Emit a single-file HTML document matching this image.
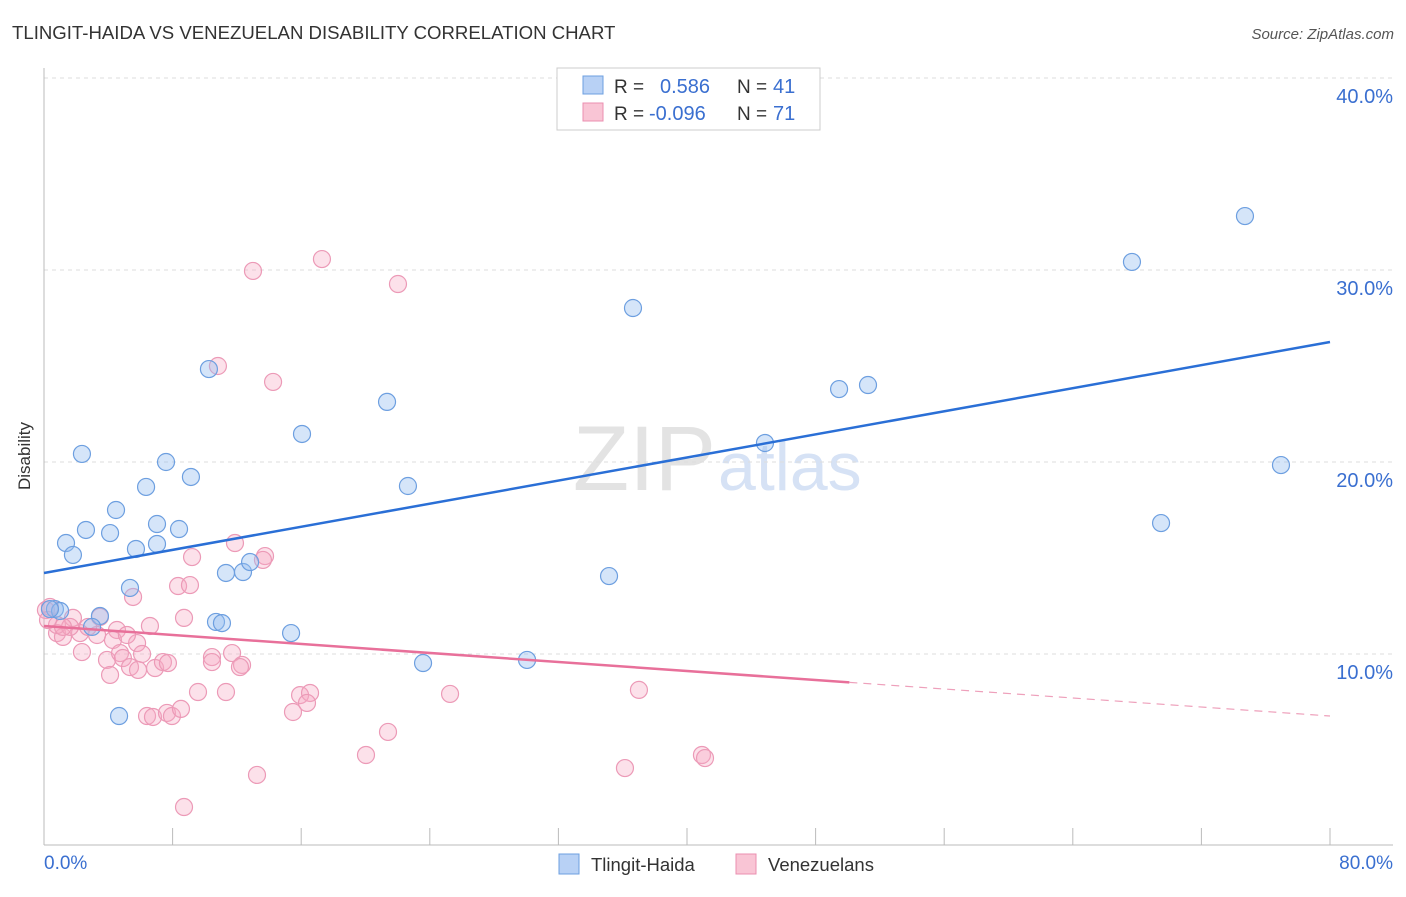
<!DOCTYPE html>
<html><head><meta charset="utf-8"><style>
body{margin:0;background:#fff;font-family:"Liberation Sans",sans-serif;}
svg text{font-family:"Liberation Sans",sans-serif;}
</style></head><body>
<svg id="chart" width="1406" height="892">
<text x="12" y="39" font-size="18.6" fill="#333">TLINGIT-HAIDA VS VENEZUELAN DISABILITY CORRELATION CHART</text>
<text x="1394" y="39" font-size="15" fill="#555" font-style="italic" text-anchor="end">Source: ZipAtlas.com</text>
<text x="30" y="456" font-size="17" fill="#333" transform="rotate(-90 30 456)" text-anchor="middle">Disability</text>
<text x="716" y="490" font-size="92" fill="#e3e3e3" text-anchor="end" font-family="Liberation Serif">ZIP</text>
<text x="718" y="490" font-size="68" fill="#d6e2f5">atlas</text>
<g id="grid"></g><g id="axes"></g><g id="marks"></g>
<g>
<rect x="557" y="68" width="263" height="62" fill="#fff" stroke="#ccc"/>
<rect x="583" y="76" width="20" height="18" fill="#b8d1f5" stroke="#6d9fe0"/>
<text x="614" y="93" font-size="19" fill="#333">R = </text><text x="660" y="93" font-size="20" fill="#3a6fd0">0.586</text>
<text x="737" y="93" font-size="19" fill="#333">N = </text><text x="773" y="93" font-size="20" fill="#3a6fd0">41</text>
<rect x="583" y="103" width="20" height="18" fill="#f9c5d5" stroke="#eb8fb0"/>
<text x="614" y="120" font-size="19" fill="#333">R = </text><text x="649" y="120" font-size="20" fill="#3a6fd0">-0.096</text>
<text x="737" y="120" font-size="19" fill="#333">N = </text><text x="773" y="120" font-size="20" fill="#3a6fd0">71</text>
</g>
<g>
<rect x="559" y="854" width="20" height="20" fill="#b8d1f5" stroke="#6d9fe0"/>
<text x="591" y="871" font-size="18.5" fill="#333">Tlingit-Haida</text>
<rect x="736" y="854" width="20" height="20" fill="#f9c5d5" stroke="#eb8fb0"/>
<text x="768" y="871" font-size="18.5" fill="#333">Venezuelans</text>
</g>
</svg>
<script>
const yTicks=[10,20,30,40];
const yTickLabels=["10.0%","20.0%","30.0%","40.0%"];
const xTicks=[0,8,16,24,32,40,48,56,64,72,80];
const blueX=[2.36,1.37,1.80,2.61,4.48,4.11,6.35,5.72,7.03,7.03,7.59,8.40,9.14,10.26,0.68,1.00,3.48,5.35,2.99,10.70,11.07,11.32,12.38,12.82,16.05,21.34,22.64,15.37,23.58,30.05,4.67,35.15,36.64,44.85,49.46,51.26,67.68,74.71,69.49,76.95,0.37];
const blueY=[20.42,15.78,15.16,16.46,17.50,16.30,18.70,15.47,16.77,15.73,20.00,16.51,19.22,24.84,12.34,12.24,11.98,13.44,11.41,11.67,11.61,14.22,14.27,14.79,21.46,23.13,18.75,11.09,9.53,9.69,6.77,14.06,28.02,20.99,23.80,24.01,30.42,32.81,16.82,19.84,12.34];
const pinkX=[11.88,9.21,13.75,13.62,8.34,9.08,5.54,8.71,6.59,3.48,0.37,1.80,0.81,1.18,2.24,3.30,4.54,4.29,5.79,5.16,2.36,3.92,4.73,4.91,6.10,5.35,5.85,6.91,7.40,7.71,4.11,10.45,10.45,11.70,12.32,12.19,9.58,11.32,15.93,16.55,16.36,15.49,6.41,6.78,7.65,7.96,8.52,13.25,8.71,0.81,1.62,2.74,1.18,13.00,17.29,22.02,10.82,14.25,21.40,20.03,25.26,37.01,36.14,40.93,41.12,0.12,0.25];
const pinkY=[15.78,15.05,15.10,14.90,13.54,13.59,12.97,11.88,11.46,11.93,12.45,11.88,11.09,10.89,11.09,10.99,11.25,10.73,10.57,10.99,10.10,9.69,10.05,9.79,10.00,9.32,9.17,9.27,9.58,9.53,8.91,9.84,9.58,10.05,9.43,9.32,8.02,8.02,7.86,7.97,7.45,6.98,6.77,6.72,6.93,6.77,7.14,3.70,2.03,11.51,11.41,11.41,11.41,29.95,30.57,29.27,25.00,24.17,5.94,4.74,7.92,8.13,4.06,4.74,4.58,12.29,11.77];
const blueTrend=[14.22,26.25];
const pinkTrend=[11.46,6.77];
const pinkSolidEnd=50.1;
const X=v=>44+v*16.075, Y=v=>846-v*19.2;
const NS="http://www.w3.org/2000/svg";
function mk(tag,parent,attrs){const e=document.createElementNS(NS,tag);for(const k in attrs)e.setAttribute(k,attrs[k]);document.getElementById(parent).appendChild(e);return e;}
yTicks.forEach((t,i)=>{
 const l=mk('line','grid',{x1:44,x2:1393,y1:Y(t),y2:Y(t),stroke:'#ddd','stroke-dasharray':'4,4'});
 
 
 const tx=mk('text','grid',{x:1393,y:Y(t)+25,'font-size':20,fill:'#3a6fd0','text-anchor':'end'});
 tx.textContent=yTickLabels[i];
 
 
});
const ax=mk('line','axes',{x1:44,x2:1393,y1:845,y2:845,stroke:'#bbb'});


const ay=mk('line','axes',{x1:44,x2:44,y1:68,y2:845,stroke:'#bbb'});


xTicks.forEach(t=>{const l=mk('line','axes',{x1:X(t),x2:X(t),y1:828,y2:845,stroke:'#bbb'});
 
 });
const xl=mk('text','axes',{x:44,y:869,'font-size':19,fill:'#3a6fd0'});xl.textContent='0.0%';


const xr=mk('text','axes',{x:1393,y:869,'font-size':19,fill:'#3a6fd0','text-anchor':'end'});xr.textContent='80.0%';


pinkX.forEach((x,i)=>{const c=mk('circle','marks',{cx:X(x),cy:Y(pinkY[i]),r:8.5,fill:'rgba(246,170,195,0.35)',stroke:'#ec9ab7','stroke-width':1.2});
 
 });
blueX.forEach((x,i)=>{const c=mk('circle','marks',{cx:X(x),cy:Y(blueY[i]),r:8.5,fill:'rgba(150,190,240,0.4)',stroke:'#6d9fe0','stroke-width':1.2});
 
 });
const pAt=x=>pinkTrend[0]+(pinkTrend[1]-pinkTrend[0])*x/80;
const bl=mk('line','marks',{x1:X(0),y1:Y(blueTrend[0]),x2:X(80),y2:Y(blueTrend[1]),stroke:'#2a6fd6','stroke-width':2.5});


const pl=mk('line','marks',{x1:X(0),y1:Y(pinkTrend[0]),x2:X(pinkSolidEnd),y2:Y(pAt(pinkSolidEnd)),stroke:'#e8709a','stroke-width':2.5});


const pd=mk('line','marks',{x1:X(pinkSolidEnd),y1:Y(pAt(pinkSolidEnd)),x2:X(80),y2:Y(pinkTrend[1]),stroke:'#eea0bb','stroke-width':1.2,'stroke-dasharray':'8,6'});


</script>
</body></html>
